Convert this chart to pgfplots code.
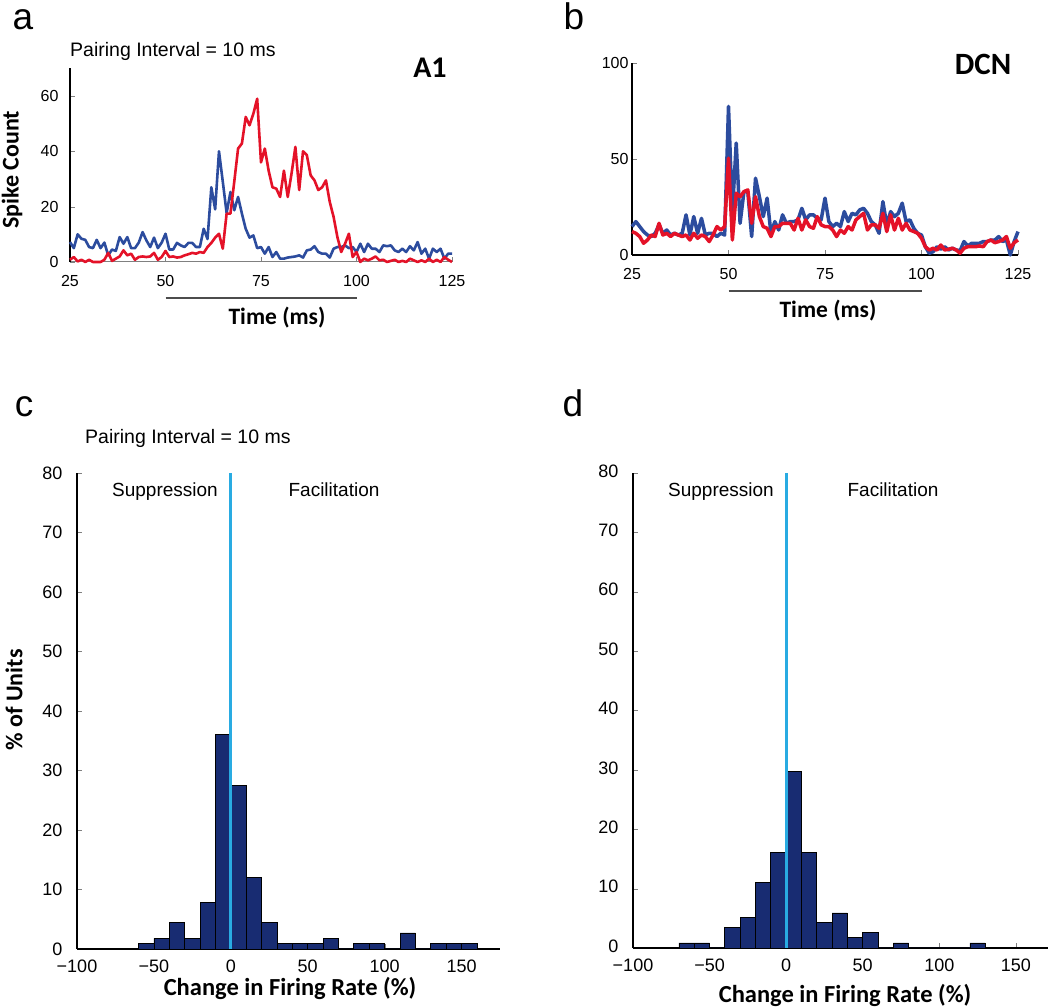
\documentclass[border=0pt]{standalone}
\usepackage{pgfplots}
\pgfplotsset{compat=1.18}
\usepackage{fontspec}
\setmainfont{Liberation Sans}
\newfontfamily\carl{Carlito}
\definecolor{lineblue}{RGB}{44,76,158}
\definecolor{linered}{RGB}{228,18,40}
\definecolor{barnavy}{RGB}{24,44,114}
\definecolor{cyanline}{RGB}{41,171,226}
\newcommand\fs[1]{\fontsize{#1pt}{#1pt}\selectfont}
\pgfplotsset{
  common/.style={scale only axis, anchor=south west, separate axis lines,
    axis x line*=bottom, axis y line*=left, enlargelimits=false,
    x axis line style={-}, y axis line style={-},
    tick align=inside, major tick length=5pt, clip=false,
    /pgf/number format/assume math mode=true},
  psth/.style={common, xmin=25, xmax=125, xtick={25,50,75,100,125},
    tick label style={font=\fs{16}},
    xticklabel style={yshift=-10pt},
    every axis plot/.append style={line width=2.6pt, line join=round}},
  hist/.style={common, xmin=-100, ymin=0, ymax=80,
    xtick={-100,-50,0,50,100,150},
    xticklabels={−100,−50,0,50,100,150},
    ytick={0,10,...,80},
    tick label style={font=\fs{18}},
    yticklabel style={xshift=-11pt},
    axis line style={line width=1.2pt}},
}
\begin{document}
\begin{tikzpicture}
\useasboundingbox (0pt,0pt) rectangle (1050pt,1008pt);

% ---------------- panel a ----------------
\begin{axis}[psth, at={(70pt,746pt)}, width=382pt, height=193.7pt,
  ymin=0, ymax=70, ytick={0,20,40,60},
  yticklabel style={xshift=-8pt},
  x axis line style={gray, line width=1pt}, xtick style={gray},
  y axis line style={black, line width=1.5pt}]
\addplot[lineblue] coordinates {
(25,7.2)(26,5)(27,10)(28,8.4)(29,8)(30,5.4)(31,5)(32,8)(33,5)(34,7)(35,2.4)(36,4.5)(37,4)(38,9)(39,6.6)(40,9)(41,5)(42,5)(43,7)(44,10.8)(45,7.8)(46,5.4)(47,8.8)(48,5)(49,7)(50,10.2)(51,4.5)(52,4.5)(53,6.9)(54,6)(55,5.4)(56,6.9)(57,6.9)(58,5.4)(59,5.4)(60,12)(61,8.3)(62,27)(63,19)(64,40)(65,29)(66,17.7)(67,25.3)(68,18.7)(69,23.5)(70,17.5)(71,12)(72,8.8)(73,9.6)(74,5)(75,5.4)(76,3)(77,5.4)(78,1.8)(79,3.6)(80,1.2)(81,1.2)(82,1.6)(83,1.8)(84,2)(85,2.4)(86,1.6)(87,4.2)(88,4.5)(89,5.7)(90,3.6)(91,3)(92,3)(93,1.6)(94,4.8)(95,5.4)(96,5.4)(97,6)(98,5)(99,5.4)(100,3.6)(101,6.6)(102,3.6)(103,6.6)(104,4.8)(105,4.8)(106,3.6)(107,6)(108,5.7)(109,6)(110,4.2)(111,3.6)(112,4.8)(113,3.6)(114,5.7)(115,4.2)(116,7.2)(117,3)(118,4.8)(119,1.2)(120,4.8)(121,3.6)(122,4.8)(123,1.2)(124,3)(125,3)};
\addplot[linered] coordinates {
(25,0.8)(26,1.8)(27,0.2)(28,0.8)(29,0)(30,0.8)(31,0)(32,0)(33,0)(34,0.8)(35,3.3)(36,0.4)(37,1.2)(38,2)(39,4.2)(40,2.4)(41,3)(42,0.8)(43,1.8)(44,2)(45,1.8)(46,2)(47,3.3)(48,0.8)(49,1.8)(50,4)(51,1.8)(52,2)(53,1.6)(54,1.8)(55,2.4)(56,2.8)(57,3.3)(58,3)(59,3.6)(60,3.3)(61,5.4)(62,6.9)(63,8.8)(64,10.2)(65,4.8)(66,17.5)(67,17.5)(68,29)(69,41)(70,42.8)(71,52.4)(72,49.4)(73,53.6)(74,59)(75,36)(76,41)(77,33)(78,27)(79,26.5)(80,23.5)(81,33)(82,23.5)(83,32)(84,41.6)(85,26)(86,40)(87,38.6)(88,31.3)(89,29.5)(90,26)(91,27)(92,29.5)(93,21.7)(94,16.3)(95,9)(96,3.6)(97,6.6)(98,10.2)(99,1.8)(100,3.6)(101,0)(102,1.2)(103,0.6)(104,1.2)(105,2)(106,0.6)(107,0.8)(108,0)(109,0.4)(110,0.8)(111,0)(112,0.4)(113,0)(114,1.2)(115,0.6)(116,0)(117,0.6)(118,0)(119,1.2)(120,0)(121,0.8)(122,0)(123,1.8)(124,0.8)(125,0)};
\draw[line width=2.5pt, black!70] (axis cs:50,-13) -- (axis cs:100,-13);
\end{axis}

% ---------------- panel b ----------------
\begin{axis}[psth, at={(632pt,753pt)}, width=386pt, height=192pt,
  ymin=0, ymax=100, ytick={0,50,100},
  every axis plot/.append style={line width=3.5pt},
  axis line style={line width=1.3pt}]
\addplot[lineblue] coordinates {
(25,14.8)(26,17.4)(27,14.8)(28,12.2)(29,10.4)(30,9.6)(31,11.3)(32,15.7)(33,11.3)(34,13)(35,10.4)(36,11.3)(37,10.4)(38,11.3)(39,20.9)(40,10.4)(41,20)(42,11.3)(43,19.1)(44,10.4)(45,11.3)(46,11.3)(47,9.6)(48,11.3)(49,10.4)(50,77.4)(51,21.7)(52,58.3)(53,16.5)(54,33)(55,33)(56,9.6)(57,40)(58,30.4)(59,20)(60,29.6)(61,11.3)(62,17.4)(63,13)(64,20.9)(65,16.5)(66,17.4)(67,17.4)(68,18.3)(69,24.3)(70,18.3)(71,20.9)(72,20.9)(73,19.1)(74,18.3)(75,29.6)(76,17.4)(77,14.8)(78,16.5)(79,14.8)(80,22.6)(81,17.4)(82,21.7)(83,20.9)(84,23.5)(85,24.3)(86,21.7)(87,17.4)(88,15.7)(89,11.3)(90,27.8)(91,15.7)(92,22.6)(93,20)(94,21.7)(95,27)(96,17.4)(97,18.3)(98,13.9)(99,11.3)(100,10.4)(101,4.3)(102,0.9)(103,1.7)(104,4.3)(105,3)(106,4.3)(107,2.6)(108,3.5)(109,2.6)(110,2.3)(111,7)(112,4.7)(113,6.1)(114,6.1)(115,6.1)(116,7)(117,7)(118,7.8)(119,7.8)(120,9.6)(121,7)(122,7.8)(123,0)(124,7)(125,12.2)};
\addplot[linered] coordinates {
(25,12.2)(26,11.3)(27,9.6)(28,6.1)(29,7.8)(30,10.4)(31,9.6)(32,16.5)(33,10.4)(34,11.3)(35,9.6)(36,11.3)(37,10.4)(38,9.6)(39,10.4)(40,7.8)(41,11.3)(42,8.7)(43,10.4)(44,9.6)(45,7)(46,10.4)(47,14.8)(48,13)(49,14.8)(50,50.4)(51,7.8)(52,32.2)(53,30.4)(54,33)(55,33.9)(56,16.5)(57,30.4)(58,20)(59,14.8)(60,13.9)(61,9.6)(62,14.8)(63,14.8)(64,16.5)(65,16.5)(66,16.5)(67,13)(68,19.1)(69,13)(70,18.3)(71,14.8)(72,13.9)(73,20)(74,15.7)(75,14.8)(76,14.8)(77,13)(78,9.6)(79,13)(80,11.3)(81,14.8)(82,13)(83,18.3)(84,20)(85,21.7)(86,13)(87,15.7)(88,15.7)(89,13.9)(90,21.7)(91,12.2)(92,20.9)(93,13)(94,19.1)(95,13)(96,16.5)(97,13)(98,12.2)(99,11.3)(100,8.7)(101,4.3)(102,2.6)(103,3.5)(104,2.6)(105,5.2)(106,2.6)(107,3)(108,3.5)(109,2.6)(110,0.9)(111,3.5)(112,4.3)(113,4.3)(114,4.3)(115,4.7)(116,4.3)(117,7)(118,7.8)(119,6.4)(120,7)(121,7.8)(122,9.6)(123,3.5)(124,6.4)(125,7.8)};
\draw[line width=2.5pt, black!70] (axis cs:50,-18.75) -- (axis cs:100,-18.75);
\end{axis}

% ---------------- panel c ----------------
\begin{axis}[hist, at={(77pt,59pt)}, width=423pt, height=476pt, xmax=175,
  xticklabel style={yshift=-7pt}]
\addplot[ybar interval, fill=barnavy, draw=black, line width=0.8pt] coordinates {
(-60,0.9)(-50,1.8)(-40,4.4)(-30,1.8)(-20,7.8)(-10,36)(0,27.5)(10,12)(20,4.4)(30,0.9)(40,0.9)(50,0.9)(60,1.8)(70,0)(80,0.9)(90,0.9)(100,0)(110,2.7)(120,0)(130,0.9)(140,0.9)(150,0.9)(160,0)};
\addplot[cyanline, line width=3pt] coordinates {(0,0)(0,80)};
\end{axis}

% ---------------- panel d ----------------
\begin{axis}[hist, at={(633pt,60pt)}, width=415pt, height=475pt, xmax=171,
  xticklabel style={yshift=-7pt}, yticklabel style={yshift=2pt}]
\addplot[ybar interval, fill=barnavy, draw=black, line width=0.8pt] coordinates {
(-70,0.85)(-60,0.85)(-50,0)(-40,3.5)(-30,5.2)(-20,11.1)(-10,16.1)(0,29.8)(10,16.1)(20,4.3)(30,5.9)(40,1.7)(50,2.6)(60,0)(70,0.85)(80,0)(90,0)(100,0)(110,0)(120,0.85)(130,0)};
\addplot[cyanline, line width=3pt] coordinates {(0,0)(0,80)};
\end{axis}

% ---------------- texts ----------------
\node[anchor=base, font=\fs{37}, inner sep=0pt] at (23pt,978pt) {a};
\node[anchor=base, font=\fs{37}, inner sep=0pt] at (574pt,978pt) {b};
\node[anchor=base, font=\fs{37}, inner sep=0pt] at (24pt,591pt) {c};
\node[anchor=base, font=\fs{37}, inner sep=0pt] at (573pt,591pt) {d};

\node[anchor=base west, font=\fs{19.5}, inner sep=0pt] at (70pt,951pt) {Pairing Interval = 10 ms};
\node[anchor=base west, font=\fs{19.5}, inner sep=0pt] at (85pt,564pt) {Pairing Interval = 10 ms};

\node[anchor=base, font=\carl\bfseries\fs{30}, inner sep=0pt] at (430pt,930pt) {A1};
\node[anchor=base, font=\carl\bfseries\fs{31}, inner sep=0pt] at (983pt,933pt) {DCN};

\node[anchor=base, font=\carl\bfseries\fs{23.5}, inner sep=0pt] at (277pt,683pt) {Time (ms)};
\node[anchor=base, font=\carl\bfseries\fs{23.5}, inner sep=0pt] at (828pt,690pt) {Time (ms)};
\node[rotate=90, font=\carl\bfseries\fs{24}, inner sep=0pt] at (12pt,838pt) {Spike Count};
\node[rotate=90, font=\carl\bfseries\fs{24}, inner sep=0pt] at (14pt,308pt) {\% of Units};
\node[anchor=base, font=\carl\bfseries\fs{24.5}, inner sep=0pt] at (290pt,12pt) {Change in Firing Rate (\%)};
\node[anchor=base, font=\carl\bfseries\fs{24.5}, inner sep=0pt] at (845pt,5pt) {Change in Firing Rate (\%)};

\node[anchor=base, font=\fs{19}, inner sep=0pt] at (165pt,511pt) {Suppression};
\node[anchor=base, font=\fs{19}, inner sep=0pt] at (334pt,511pt) {Facilitation};
\node[anchor=base, font=\fs{19}, inner sep=0pt] at (721pt,511pt) {Suppression};
\node[anchor=base, font=\fs{19}, inner sep=0pt] at (893pt,511pt) {Facilitation};
\end{tikzpicture}
\end{document}
